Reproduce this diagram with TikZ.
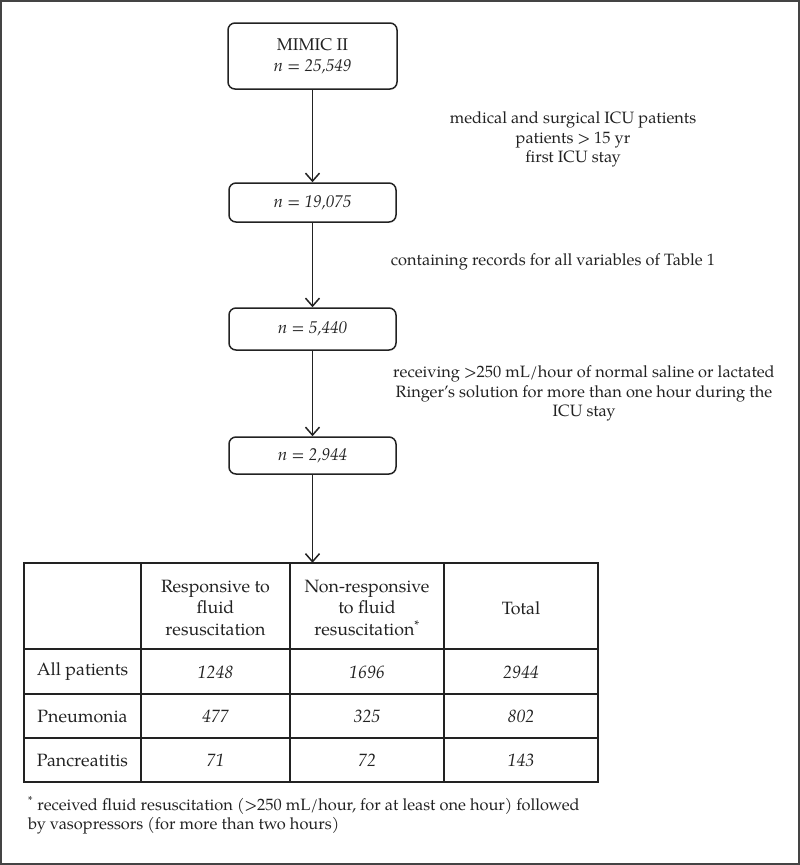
\documentclass[tikz,border=0pt]{standalone}
\usepackage{fontspec}
\setmainfont{texgyrepagella}[Extension=.otf, UprightFont=*-regular, ItalicFont=*-italic, BoldFont=*-bold, BoldItalicFont=*-bolditalic]
\usetikzlibrary{arrows.meta}
\definecolor{ink}{HTML}{222222}
\definecolor{frame}{HTML}{444444}
\begin{document}
\begin{tikzpicture}[x=1pt,y=-1pt,
  every node/.style={text=ink},
  flowbox/.style={draw=ink, line width=1.5pt, rounded corners=7pt, fill=white, align=center, inner sep=0pt, font=\fontsize{17}{20.5}\selectfont},
  txt/.style={font=\fontsize{16.4}{19.5}\selectfont, align=center, inner sep=0pt},
  cell/.style={font=\fontsize{17.8}{21.5}\selectfont, align=center, inner sep=0pt},
  flowarrow/.style={draw=ink, line width=1.4pt, -{Straight Barb[length=8pt,width=14pt,line width=1.5pt]}},
  grid/.style={draw=ink, line width=1.6pt}]
\useasboundingbox (0,0) rectangle (800,865);
\draw[frame, line width=2.2pt] (1,1) rectangle (799,864);

\node[flowbox, minimum width=169pt, minimum height=66pt] (b1) at (312.5,56) {MIMIC II\\\textit{n = 25,549}};
\node[flowbox, minimum width=167pt, minimum height=39pt] (b2) at (312.5,202.5) {\textit{n = 19,075}};
\node[flowbox, minimum width=167pt, minimum height=42pt] (b3) at (312.5,329) {\textit{n = 5,440}};
\node[flowbox, minimum width=167pt, minimum height=37pt] (b4) at (312.5,455.5) {\textit{n = 2,944}};

\node[txt] (c1) at (573,139.5) {medical and surgical ICU patients\\patients > 15 yr\\first ICU stay};
\node[txt] (c2) at (553,262) {containing records for all variables of Table 1};
\node[txt] (c3) at (584,393.5) {receiving >250 mL/hour of normal saline or lactated\\Ringer's solution for more than one hour during the\\ICU stay};

% table
\node[draw=none, minimum width=574pt, minimum height=219pt, inner sep=0pt] (tbl) at (311,672.5) {};
\draw[grid] (24,563) rectangle (598,782);
\draw[grid] (24,649) -- (598,649);
\draw[grid] (24,694) -- (598,694);
\draw[grid] (24,738) -- (598,738);
\draw[grid] (141,563) -- (141,782);
\draw[grid] (290,563) -- (290,782);
\draw[grid] (444,563) -- (444,782);

\node[cell] (h2) at (215.5,608) {Responsive to\\fluid\\resuscitation};
\node[cell] (h3) at (367,608) {Non-responsive\\to fluid\\resuscitation\textsuperscript{*}};
\node[cell] (h4) at (521,608) {Total};

\node[cell] (r1) at (82.5,672) {All patients};
\node[cell] (r2) at (82.5,716.5) {Pneumonia};
\node[cell] (r3) at (82.5,760.5) {Pancreatitis};

\node[cell] (v11) at (215.5,672) {\textit{1248}};
\node[cell] (v12) at (367,672) {\textit{1696}};
\node[cell] (v13) at (521,672) {\textit{2944}};
\node[cell] (v21) at (215.5,716.5) {\textit{477}};
\node[cell] (v22) at (367,716.5) {\textit{325}};
\node[cell] (v23) at (521,716.5) {\textit{802}};
\node[cell] (v31) at (215.5,760.5) {\textit{71}};
\node[cell] (v32) at (367,760.5) {\textit{72}};
\node[cell] (v33) at (521,760.5) {\textit{143}};

\node[txt, align=left, anchor=north west] (fn) at (28,796) {\textsuperscript{*} received fluid resuscitation (>250 mL/hour, for at least one hour) followed\\by vasopressors (for more than two hours)};

\draw[flowarrow] (b1) -- (b2);
\draw[flowarrow] (b2) -- (b3);
\draw[flowarrow] (b3) -- (b4);
\draw[flowarrow] (b4.south) -- (b4.south |- tbl.north);
\end{tikzpicture}
\end{document}
